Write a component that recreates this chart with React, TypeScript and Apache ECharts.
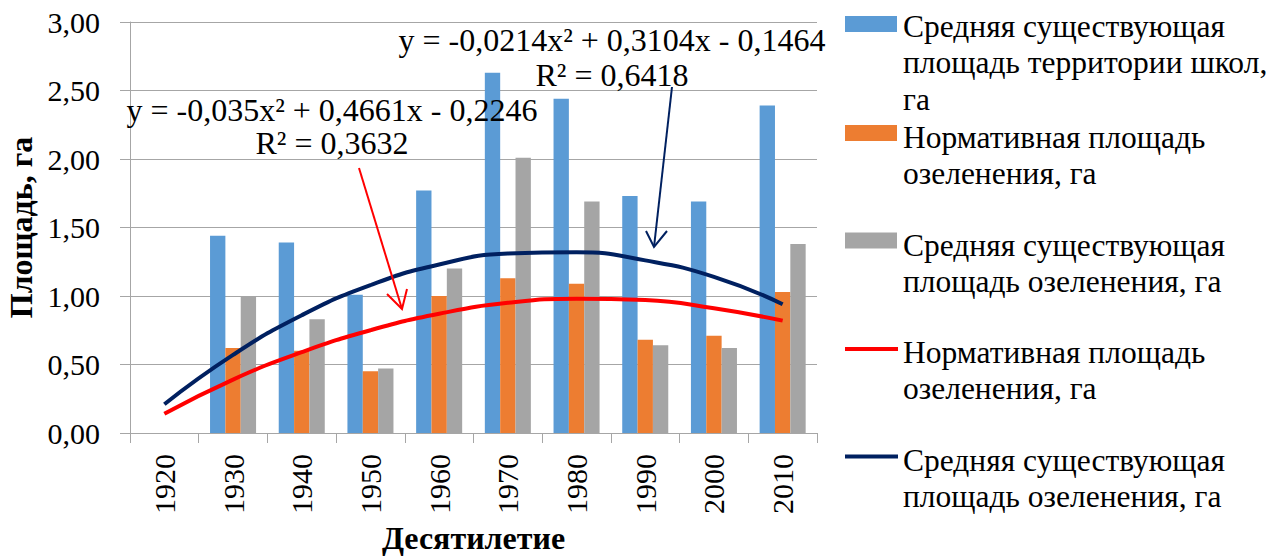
import React, { useEffect, useRef } from "react";
import * as echarts from "echarts";

const categories = ["1920", "1930", "1940", "1950", "1960", "1970", "1980", "1990", "2000", "2010"];
const schoolArea = [null, 1.44, 1.39, 1.01, 1.77, 2.63, 2.44, 1.73, 1.69, 2.39];
const normGreen = [null, 0.62, 0.6, 0.45, 1.0, 1.13, 1.09, 0.68, 0.71, 1.03];
const actualGreen = [null, 1.0, 0.83, 0.47, 1.2, 2.01, 1.69, 0.64, 0.62, 1.38];
const trendNorm = [0.14, 0.39, 0.59, 0.75, 0.87, 0.95, 0.98, 0.97, 0.91, 0.82];
const trendActual = [0.21, 0.57, 0.86, 1.08, 1.23, 1.31, 1.32, 1.26, 1.14, 0.94];

const seriesNames = [
  "Средняя существующая\nплощадь территории школ,\nга",
  "Нормативная площадь\nозеленения, га",
  "Средняя существующая\nплощадь озеленения, га",
  "Нормативная площадь\nозеленения, га",
  "Средняя существующая\nплощадь озеленения, га",
];
const colors = ["#5B9BD5", "#ED7D31", "#A5A5A5", "#FF0000", "#002060"];
const eq1 = ["y = -0,035x² + 0,4661x - 0,2246", "R² = 0,3632"];
const eq2 = ["y = -0,0214x² + 0,3104x - 0,1464", "R² = 0,6418"];

const FONT = "'Times New Roman', 'Liberation Serif', serif";

export default function App() {
  const ref = useRef<HTMLDivElement>(null);
  useEffect(() => {
    document.body.style.margin = "0";
    const chart = echarts.init(ref.current!, null, { renderer: "svg" });
    const legendTops = [8, 119, 227, 334, 442];
    const iconCenters = [24, 133, 240.5, 349, 456.5];
    const legendGraphics: any[] = [];
    seriesNames.forEach((name, i) => {
      if (i < 3) {
        legendGraphics.push({
          type: "rect",
          shape: { x: 845, y: iconCenters[i] - 8, width: 52, height: 16 },
          style: { fill: colors[i] },
        });
      } else {
        legendGraphics.push({
          type: "line",
          shape: { x1: 845, y1: iconCenters[i], x2: 898, y2: iconCenters[i] },
          style: { stroke: colors[i], lineWidth: 4 },
        });
      }
      legendGraphics.push({
        type: "text",
        x: 903,
        y: legendTops[i],
        style: {
          text: name,
          fontFamily: FONT,
          fontSize: 31.5,
          lineHeight: 36.5,
          fill: "#000",
          verticalAlign: "top",
          align: "left",
        },
      });
    });

    const textEl = (t: string, x: number, y: number) => ({
      type: "text",
      x,
      y,
      z: 100,
      style: {
        text: t,
        fontFamily: FONT,
        fontSize: 32,
        fill: "#000",
        align: "center",
        verticalAlign: "middle",
      },
    });

    chart.setOption({
      animation: false,
      textStyle: { fontFamily: FONT },
      grid: {
        left: 130,
        top: 22,
        right: 466,
        bottom: 127,
        containLabel: false,
        outerBoundsMode: "none",
      },
      xAxis: {
        type: "category",
        data: categories,
        name: "Десятилетие",
        nameLocation: "middle",
        nameGap: 89,
        nameTextStyle: { fontFamily: FONT, fontSize: 32, fontWeight: "bold", color: "#000" },
        axisLine: { lineStyle: { color: "#A6A6A6", width: 1 } },
        axisTick: { show: true, length: 10, lineStyle: { color: "#A6A6A6" } },
        axisLabel: { rotate: 90, fontFamily: FONT, fontSize: 30, color: "#000", margin: 21 },
      },
      yAxis: {
        type: "value",
        min: 0,
        max: 3,
        interval: 0.5,
        name: "Площадь, га",
        nameLocation: "middle",
        nameGap: 91,
        nameRotate: 90,
        nameTextStyle: { fontFamily: FONT, fontSize: 32, fontWeight: "bold", color: "#000" },
        axisLine: { show: true, lineStyle: { color: "#A6A6A6", width: 1 } },
        axisTick: { show: true, length: 10, lineStyle: { color: "#A6A6A6" } },
        splitLine: { lineStyle: { color: "#A6A6A6", width: 1 } },
        axisLabel: {
          fontFamily: FONT,
          fontSize: 30,
          color: "#000",
          margin: 30,
          formatter: (v: number) => v.toFixed(2).replace(".", ","),
        },
      },
      series: [
        {
          name: "school",
          type: "bar",
          data: schoolArea,
          barGap: "0%",
          barCategoryGap: "33%",
          itemStyle: { color: colors[0] },
        },
        { name: "norm", type: "bar", data: normGreen, itemStyle: { color: colors[1] } },
        { name: "actual", type: "bar", data: actualGreen, itemStyle: { color: colors[2] } },
        {
          name: "trendNorm",
          type: "line",
          data: trendNorm,
          smooth: true,
          symbol: "none",
          z: 5,
          lineStyle: { color: colors[3], width: 4 },
        },
        {
          name: "trendActual",
          type: "line",
          data: trendActual,
          smooth: true,
          symbol: "none",
          z: 5,
          lineStyle: { color: colors[4], width: 4 },
        },
      ],
      graphic: [
        ...legendGraphics,
        textEl(eq1[0], 332, 110),
        textEl(eq1[1], 332, 143),
        textEl(eq2[0], 612, 40),
        textEl(eq2[1], 612, 75),
        {
          type: "line",
          z: 100,
          shape: { x1: 359, y1: 168, x2: 402, y2: 309 },
          style: { stroke: "#FF0000", lineWidth: 2 },
        },
        {
          type: "polyline",
          z: 100,
          shape: { points: [[387, 294], [402, 309], [407, 289]] },
          style: { stroke: "#FF0000", lineWidth: 2, fill: null },
        },
        {
          type: "line",
          z: 100,
          shape: { x1: 672, y1: 87, x2: 654, y2: 247 },
          style: { stroke: "#002060", lineWidth: 2 },
        },
        {
          type: "polyline",
          z: 100,
          shape: { points: [[646, 231], [654, 247], [667, 231]] },
          style: { stroke: "#002060", lineWidth: 2, fill: null },
        },
      ],
    });
    return () => chart.dispose();
  }, []);
  return <div ref={ref} style={{ width: 1283, height: 560 }} />;
}
